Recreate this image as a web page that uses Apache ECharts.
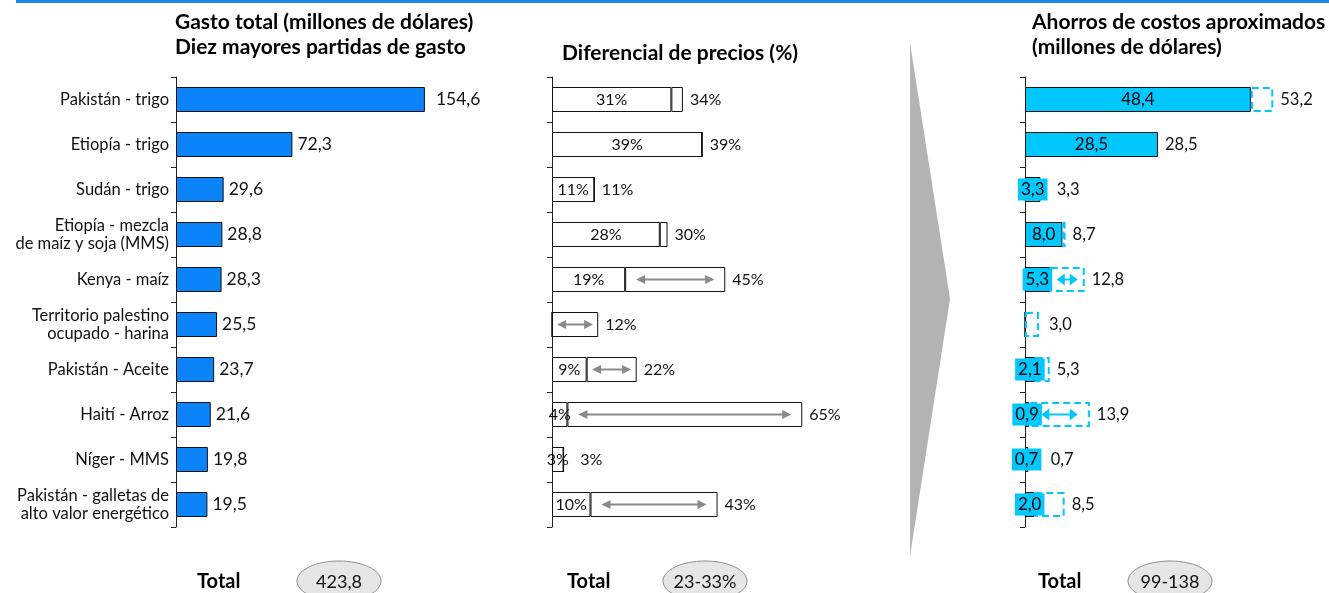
<!DOCTYPE html>
<html>
<head>
<meta charset="utf-8">
<script src="https://cdn.jsdelivr.net/npm/echarts@6/dist/echarts.min.js"></script>
<style>
  body { margin: 0; background: #fff; }
  #main { width: 1329px; height: 593px; }
</style>
</head>
<body>
<div id="main"></div>
<script>
// datos
var categorias = [
  'Pakistán - trigo',
  'Etiopía - trigo',
  'Sudán - trigo',
  'Etiopía - mezcla\nde maíz y soja (MMS)',
  'Kenya - maíz',
  'Territorio palestino\nocupado - harina',
  'Pakistán - Aceite',
  'Haití - Arroz',
  'Níger - MMS',
  'Pakistán - galletas de\nalto valor energético'
];
var gasto = [154.6, 72.3, 29.6, 28.8, 28.3, 25.5, 23.7, 21.6, 19.8, 19.5];
var difBajo = [31, 39, 11, 28, 19, 0, 9, 4, 3, 10];
var difAlto = [34, 39, 11, 30, 45, 12, 22, 65, 3, 43];
var difFlecha = [0, 0, 0, 0, 1, 1, 1, 1, 0, 1];
var ahorroBajo = [48.4, 28.5, 3.3, 8.0, 5.3, 0, 2.1, 0.9, 0.7, 2.0];
var ahorroAlto = [53.2, 28.5, 3.3, 8.7, 12.8, 3.0, 5.3, 13.9, 0.7, 8.5];
var ahorroFlecha = [0, 0, 0, 0, 1, 0, 0, 1, 0, 0];
var titulos = [
  'Gasto total (millones de dólares)\nDiez mayores partidas de gasto',
  'Diferencial de precios (%)',
  'Ahorros de costos aproximados\n(millones de dólares)'
];
var totales = ['423,8', '23-33%', '99-138'];

var FONT = 'Lato';
var AZUL = '#0a84f8';
var CIAN = '#00c8ff';
var GRIS = '#8a8a8a';

// geometria de los tres paneles
var grids = [
  { left: 176, top: 77, width: 322, height: 450, max: 200 },
  { left: 552, top: 77, width: 269.5, height: 450, max: 70 },
  { left: 1025, top: 77, width: 280, height: 450, max: 60 }
];

function coma(v) {
  return v.toFixed(1).replace('.', ',');
}

function flechas(bajo, alto, flag) {
  var out = [];
  for (var i = 0; i < bajo.length; i++) {
    if (flag[i]) out.push([bajo[i], alto[i], i]);
  }
  return out;
}

function arrowRenderer(color, head, halfW, padFn) {
  return function (params, api) {
    var a = api.coord([api.value(0), api.value(2)]);
    var b = api.coord([api.value(1), api.value(2)]);
    var w = b[0] - a[0];
    var pad = padFn(w);
    var x0 = a[0] + pad, x1 = b[0] - pad, y = a[1];
    return {
      type: 'group',
      children: [
        { type: 'line', shape: { x1: x0 + head - 1, y1: y, x2: x1 - head + 1, y2: y },
          style: { stroke: color, lineWidth: 2 } },
        { type: 'polygon', shape: { points: [[x0, y], [x0 + head, y - halfW], [x0 + head, y + halfW]] },
          style: { fill: color } },
        { type: 'polygon', shape: { points: [[x1, y], [x1 - head, y - halfW], [x1 - head, y + halfW]] },
          style: { fill: color } }
      ]
    };
  };
}

var myChart = echarts.init(document.getElementById('main'));

var grid = [], xAxis = [], yAxis = [];
grids.forEach(function (g, i) {
  grid.push({ left: g.left, top: g.top, width: g.width, height: g.height });
  xAxis.push({ gridIndex: i, type: 'value', min: 0, max: g.max, show: false });
  yAxis.push({
    gridIndex: i,
    type: 'category',
    inverse: true,
    data: categorias,
    axisLine: { lineStyle: { color: '#222', width: 1 } },
    axisTick: { show: true, length: 5, lineStyle: { color: '#222' } },
    axisLabel: {
      show: i === 0,
      margin: 7,
      fontFamily: FONT,
      fontSize: 16.5,
      lineHeight: 18,
      color: '#111',
      align: 'right'
    }
  });
});

// px por unidad en cada panel (para separar las etiquetas)
var s2 = grids[1].width / grids[1].max;
var s3 = grids[2].width / grids[2].max;

var gastoData = gasto.map(function (v, i) {
  return { value: v, label: { distance: i === 0 ? 11 : 5 } };
});

var difRangoData = difAlto.map(function (v, i) {
  var lo = difBajo[i] * s2, hi = v * s2;
  return { value: v - difBajo[i], label: { distance: Math.max(7, lo / 2 + 15 - hi + 7) } };
});

var ahorroBajoData = ahorroBajo.map(function (v) {
  return { value: v, label: { show: v > 0 } };
});

var ahorroRangoData = ahorroAlto.map(function (v, i) {
  var lo = ahorroBajo[i] * s3, hi = v * s3;
  var r = v - ahorroBajo[i];
  return {
    value: r,
    itemStyle: r > 0 ? {} : { borderWidth: 0 },
    label: { distance: Math.max(7, lo / 2 + 18 - hi + 6) }
  };
});

var txt = { fontFamily: FONT, fontSize: 16.5, color: '#111' };
var tituloStyle = { fontFamily: FONT, fontWeight: 'bold', fontSize: 21, lineHeight: 25, color: '#000' };

var option = {
  animation: false,
  title: [
    { text: titulos[0], left: 175, top: 10, padding: 0, textStyle: tituloStyle },
    { text: titulos[1], left: 562, top: 41, padding: 0, textStyle: tituloStyle },
    { text: titulos[2], left: 1032, top: 10, padding: 0, textStyle: tituloStyle }
  ],
  grid: grid,
  xAxis: xAxis,
  yAxis: yAxis,
  series: [
    {
      name: 'Gasto',
      type: 'bar',
      xAxisIndex: 0, yAxisIndex: 0,
      barWidth: 25,
      data: gastoData,
      itemStyle: { color: AZUL, borderColor: '#111', borderWidth: 1 },
      label: Object.assign({ show: true, position: 'right', formatter: function (p) { return coma(p.value); } },
        txt, { fontSize: 17.5 })
    },
    {
      name: 'Dif bajo',
      type: 'bar',
      stack: 'dif',
      xAxisIndex: 1, yAxisIndex: 1,
      barWidth: 25,
      data: difBajo,
      itemStyle: { color: '#fff', borderColor: '#111', borderWidth: 1 },
      label: Object.assign({ show: true, position: 'inside',
        formatter: function (p) { return p.value > 0 ? p.value + '%' : ''; } }, txt, { fontSize: 16 })
    },
    {
      name: 'Dif rango',
      type: 'bar',
      stack: 'dif',
      xAxisIndex: 1, yAxisIndex: 1,
      barWidth: 25,
      data: difRangoData,
      itemStyle: { color: '#fff', borderColor: '#111', borderWidth: 1 },
      label: Object.assign({ show: true, position: 'right',
        formatter: function (p) { return difAlto[p.dataIndex] + '%'; } }, txt, { fontSize: 16 })
    },
    {
      name: 'Dif flechas',
      type: 'custom',
      xAxisIndex: 1, yAxisIndex: 1,
      silent: true,
      z: 5,
      encode: { x: [0, 1], y: 2 },
      data: flechas(difBajo, difAlto, difFlecha),
      renderItem: arrowRenderer(GRIS, 9, 4.5, function (w) { return Math.min(11, w * 0.11); })
    },
    {
      name: 'Ahorro bajo',
      type: 'bar',
      stack: 'ahorro',
      xAxisIndex: 2, yAxisIndex: 2,
      barWidth: 25,
      data: ahorroBajoData,
      itemStyle: { color: CIAN, borderColor: '#111', borderWidth: 1 },
      label: Object.assign({ show: true, position: 'inside', backgroundColor: CIAN,
        padding: [3, 3, 2, 3],
        formatter: function (p) { return coma(p.value); } }, txt, { fontSize: 17, color: '#000' })
    },
    {
      name: 'Ahorro rango',
      type: 'bar',
      stack: 'ahorro',
      xAxisIndex: 2, yAxisIndex: 2,
      barWidth: 25,
      data: ahorroRangoData,
      itemStyle: { color: 'rgba(0,0,0,0)', borderColor: CIAN, borderWidth: 2, borderType: [7, 4] },
      label: Object.assign({ show: true, position: 'right',
        formatter: function (p) { return coma(ahorroAlto[p.dataIndex]); } }, txt)
    },
    {
      name: 'Ahorro flechas',
      type: 'custom',
      xAxisIndex: 2, yAxisIndex: 2,
      silent: true,
      z: 5,
      encode: { x: [0, 1], y: 2 },
      data: flechas(ahorroBajo, ahorroAlto, ahorroFlecha),
      renderItem: arrowRenderer(CIAN, 8, 6, function (w) { return Math.max(6, w * 0.2); })
    }
  ],
  graphic: [
    { type: 'rect', left: 16, top: 0, shape: { width: 1313, height: 3 }, style: { fill: '#1f88e8' } },
    { type: 'polygon', shape: { points: [[910, 43], [950, 299], [910, 556]] }, style: { fill: '#b3b3b3' } }
  ]
};

// fila de totales
var totalX = [197, 567, 1038];
var elipseX = [339, 705, 1170];
totales.forEach(function (t, i) {
  option.graphic.push({
    type: 'text', left: totalX[i], top: 572,
    style: { text: 'Total', fontFamily: FONT, fontWeight: 'bold', fontSize: 20, fill: '#000' }
  });
  option.graphic.push({
    type: 'ellipse',
    shape: { cx: elipseX[i], cy: 581, rx: 42, ry: 20 },
    style: { fill: '#e6e6e6', stroke: '#8c8c8c', lineWidth: 1 }
  });
  option.graphic.push({
    type: 'text', x: elipseX[i], y: 582,
    style: { text: t, fontFamily: FONT, fontSize: 18, fill: '#111', align: 'center', verticalAlign: 'middle' }
  });
});

myChart.setOption(option);
</script>
</body>
</html>
